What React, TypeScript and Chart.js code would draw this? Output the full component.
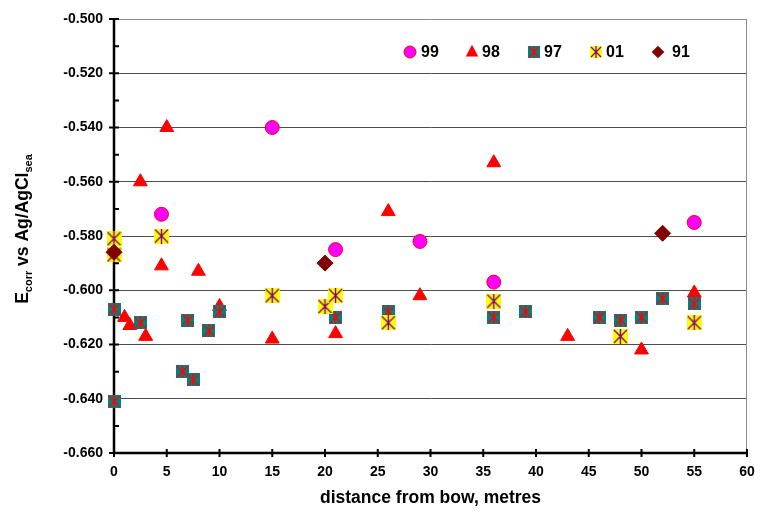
import { useEffect, useRef } from "react";
import { Chart, registerables } from "chart.js";

Chart.register(...registerables);

// ---------- data ----------
const seriesLabels = ["99", "98", "97", "01", "91"];

const x99 = [4.5, 15, 21, 29, 36, 55];
const y99 = [-0.572, -0.54, -0.585, -0.582, -0.597, -0.575];

const x98 = [1, 1.5, 2.5, 3, 4.5, 5, 8, 10, 15, 21, 26, 29, 36, 43, 50, 55];
const y98 = [-0.61, -0.613, -0.56, -0.617, -0.591, -0.54, -0.593, -0.606, -0.618, -0.616, -0.571, -0.602, -0.553, -0.617, -0.622, -0.601];

const x97 = [0, 0, 2.5, 6.5, 7, 7.5, 9, 10, 21, 26, 36, 39, 46, 48, 50, 52, 55];
const y97 = [-0.607, -0.641, -0.612, -0.63, -0.611, -0.633, -0.615, -0.608, -0.61, -0.608, -0.61, -0.608, -0.61, -0.611, -0.61, -0.603, -0.605];

const x01 = [0, 0, 4.5, 15, 20, 21, 26, 36, 48, 55];
const y01 = [-0.581, -0.587, -0.58, -0.602, -0.606, -0.602, -0.612, -0.604, -0.617, -0.612];

const x91 = [0, 20, 52];
const y91 = [-0.586, -0.59, -0.579];

const xTitle = "distance from bow, metres";
const xMin = 0, xMax = 60, xStep = 5;
const yMin = -0.66, yMax = -0.5, yMinorStep = 0.01;

const FONT = "'Liberation Sans', Arial, Helvetica, sans-serif";

const zip = (xs: number[], ys: number[]) => xs.map((x, i) => ({ x, y: ys[i] }));

function starSquare(size: number, fill: string, stroke: string, lw: number) {
  const c = document.createElement("canvas");
  c.width = size;
  c.height = size;
  const g = c.getContext("2d")!;
  g.fillStyle = fill;
  g.fillRect(0, 0, size, size);
  g.strokeStyle = stroke;
  g.lineWidth = lw;
  g.beginPath();
  g.moveTo(1, 1);
  g.lineTo(size - 1, size - 1);
  g.moveTo(size - 1, 1);
  g.lineTo(1, size - 1);
  g.moveTo(size / 2, 0);
  g.lineTo(size / 2, size);
  g.stroke();
  return c;
}

export default function App() {
  const ref = useRef<HTMLCanvasElement>(null);

  useEffect(() => {
    const canvas = ref.current!;
    const teal = starSquare(13, "#008080", "#ff0000", 1.4);
    const yellow = starSquare(15, "#ffff00", "#800080", 1.4);
    const tealSmall = starSquare(12, "#008080", "#ff0000", 1.3);
    const yellowSmall = starSquare(12, "#ffff00", "#800080", 1.3);

    const axesPlugin = {
      id: "axesPlugin",
      beforeDatasetsDraw(chart: any) {
        const { ctx, chartArea } = chart;
        const { left, right, top, bottom } = chartArea;
        const xs = chart.scales.x;
        const ys = chart.scales.y;
        ctx.save();
        // right border
        ctx.strokeStyle = "#8a8a8a";
        ctx.lineWidth = 1;
        ctx.beginPath();
        ctx.moveTo(Math.round(right) - 0.5, top);
        ctx.lineTo(Math.round(right) - 0.5, bottom);
        ctx.stroke();
        // axis lines
        ctx.strokeStyle = "#000";
        ctx.lineWidth = 2.5;
        ctx.beginPath();
        ctx.moveTo(left, top - 1);
        ctx.lineTo(left, bottom + 1);
        ctx.moveTo(left - 1, bottom);
        ctx.lineTo(right, bottom);
        ctx.stroke();
        // y ticks
        ctx.lineWidth = 2;
        ctx.beginPath();
        ys.ticks.forEach((t: any) => {
          const py = ys.getPixelForValue(t.value);
          const major = Math.round(t.value * 100) % 2 === 0;
          ctx.moveTo(major ? left - 5 : left, py);
          ctx.lineTo(left + 5, py);
        });
        // x ticks
        xs.ticks.forEach((t: any) => {
          const px = xs.getPixelForValue(t.value);
          ctx.moveTo(px, bottom - 4);
          ctx.lineTo(px, bottom + 4);
        });
        ctx.stroke();
        ctx.restore();
      },
      afterDraw(chart: any) {
        const { ctx, chartArea } = chart;
        ctx.save();
        // ---- y title with subscripts ----
        const big = `bold 17.5px ${FONT}`;
        const small = `bold 11px ${FONT}`;
        const parts: [string, boolean][] = [
          ["E", false],
          ["corr", true],
          [" vs Ag/AgCl", false],
          ["sea", true],
        ];
        let total = 0;
        const widths = parts.map(([s, sub]) => {
          ctx.font = sub ? small : big;
          const w = ctx.measureText(s).width;
          total += w;
          return w;
        });
        const cy = (chartArea.top + chartArea.bottom) / 2 - 7;
        ctx.translate(27.5, cy);
        ctx.rotate(-Math.PI / 2);
        ctx.fillStyle = "#000";
        ctx.textBaseline = "alphabetic";
        ctx.textAlign = "left";
        let u = -total / 2;
        parts.forEach(([s, sub], i) => {
          ctx.font = sub ? small : big;
          ctx.fillText(s, u, sub ? 4 : 0);
          u += widths[i];
        });
        ctx.restore();

        // ---- legend inside plot ----
        ctx.save();
        const ly = chartArea.top + 33;
        const startX = chartArea.left + 296;
        const spacing = 62;
        const textOff = [11, 10, 10, 10, 14];
        ctx.font = `bold 16px ${FONT}`;
        ctx.textBaseline = "middle";
        ctx.textAlign = "left";
        seriesLabels.forEach((lab, i) => {
          const cx = startX + i * spacing;
          ctx.save();
          if (i === 0) {
            ctx.beginPath();
            ctx.arc(cx, ly, 6, 0, Math.PI * 2);
            ctx.fillStyle = "#ff00ff";
            ctx.fill();
            ctx.strokeStyle = "#ff0000";
            ctx.lineWidth = 1;
            ctx.stroke();
          } else if (i === 1) {
            const r = 7.2;
            ctx.beginPath();
            ctx.moveTo(cx, ly - r);
            ctx.lineTo(cx + r * 0.866, ly + r / 2 + 1);
            ctx.lineTo(cx - r * 0.866, ly + r / 2 + 1);
            ctx.closePath();
            ctx.fillStyle = "#ff0000";
            ctx.fill();
          } else if (i === 2) {
            ctx.drawImage(tealSmall, cx - 6, ly - 6);
          } else if (i === 3) {
            ctx.drawImage(yellowSmall, cx - 6, ly - 6);
          } else {
            const r = 6.3;
            ctx.beginPath();
            ctx.moveTo(cx - r, ly);
            ctx.lineTo(cx, ly - r);
            ctx.lineTo(cx + r, ly);
            ctx.lineTo(cx, ly + r);
            ctx.closePath();
            ctx.fillStyle = "#800000";
            ctx.fill();
          }
          ctx.restore();
          ctx.fillStyle = "#000";
          ctx.fillText(lab, cx + textOff[i], ly + 1);
        });
        ctx.restore();
      },
    };

    const chart = new Chart(canvas, {
      type: "scatter",
      data: {
        datasets: [
          {
            label: seriesLabels[0],
            data: zip(x99, y99),
            pointStyle: "circle",
            pointRadius: 7,
            backgroundColor: "#ff00ff",
            borderColor: "#ff0000",
            borderWidth: 1,
            order: 5,
            clip: false,
          },
          {
            label: seriesLabels[1],
            data: zip(x98, y98),
            pointStyle: "triangle",
            pointRadius: 8,
            backgroundColor: "#ff0000",
            borderColor: "#ff0000",
            borderWidth: 1,
            order: 4,
            clip: false,
          },
          {
            label: seriesLabels[2],
            data: zip(x97, y97),
            pointStyle: teal,
            pointRadius: 7,
            backgroundColor: "#008080",
            borderColor: "#ff0000",
            order: 3,
            clip: false,
          },
          {
            label: seriesLabels[3],
            data: zip(x01, y01),
            pointStyle: yellow,
            pointRadius: 8,
            backgroundColor: "#ffff00",
            borderColor: "#800080",
            order: 2,
            clip: false,
          },
          {
            label: seriesLabels[4],
            data: zip(x91, y91),
            pointStyle: "rectRot",
            pointRadius: 8,
            backgroundColor: "#800000",
            borderColor: "#800000",
            borderWidth: 1,
            order: 1,
            clip: false,
          },
        ] as any,
      },
      options: {
        responsive: false,
        animation: false,
        devicePixelRatio: 1,
        events: [],
        layout: { padding: { top: 19, right: 16, left: 0, bottom: 0 } },
        plugins: {
          legend: { display: false },
          tooltip: { enabled: false },
        },
        scales: {
          x: {
            type: "linear",
            min: xMin,
            max: xMax,
            afterFit: (s: any) => {
              s.height = 60;
              s.paddingLeft = 0;
              s.paddingRight = 0;
            },
            grid: { display: false, drawTicks: false },
            border: { display: false },
            ticks: {
              stepSize: xStep,
              padding: 11,
              color: "#000",
              font: { family: FONT, size: 14, weight: "bold" },
              maxRotation: 0,
              autoSkip: false,
            },
            title: {
              display: true,
              text: xTitle,
              color: "#000",
              font: { family: FONT, size: 17.5, weight: "bold" },
              padding: { top: 0, bottom: 4 },
            },
          },
          y: {
            type: "linear",
            min: yMin,
            max: yMax,
            afterFit: (s: any) => {
              s.width = 114;
              s.paddingTop = 0;
              s.paddingBottom = 0;
            },
            grid: {
              drawTicks: false,
              lineWidth: 1,
              color: (c: any) => {
                const v = c.tick ? c.tick.value : 0;
                const k = Math.round(v * 100);
                if (k % 2 !== 0) return "rgba(0,0,0,0)";
                if (k === -50) return "#8a8a8a";
                return "#4d4d4d";
              },
            },
            border: { display: false },
            ticks: {
              stepSize: yMinorStep,
              padding: 11,
              autoSkip: false,
              color: "#000",
              font: { family: FONT, size: 14, weight: "bold" },
              callback: (v: any) => {
                const k = Math.round(Number(v) * 100);
                return k % 2 === 0 ? Number(v).toFixed(3) : "";
              },
            },
          },
        },
      } as any,
      plugins: [axesPlugin],
    });

    return () => chart.destroy();
  }, []);

  return (
    <div style={{ position: "fixed", left: 0, top: 0, width: 763, height: 513, background: "#fff" }}>
      <canvas ref={ref} width={763} height={513} style={{ display: "block" }} />
    </div>
  );
}
